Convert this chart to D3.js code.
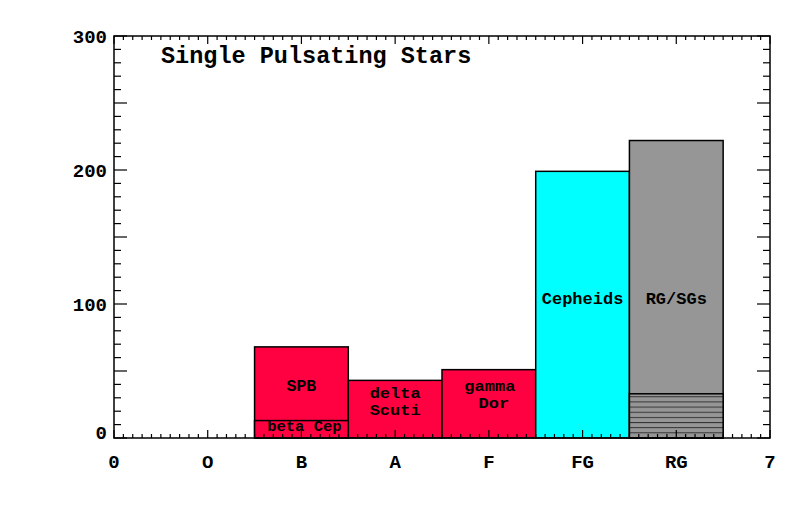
<!DOCTYPE html>
<html><head><meta charset="utf-8">
<script src="https://cdn.jsdelivr.net/npm/d3@7"></script>
<style>body{margin:0;background:#fff}svg{display:block}text{font-family:"Liberation Mono","Courier New",monospace;font-weight:bold;fill:#000}</style>
</head><body>
<script>
const xTickLabels = ["0","O","B","A","F","FG","RG","7"];
const classes = ["B","A","F","FG","RG"];
const classPos = [2,3,4,5,6];
const counts = [68,43,51,199,222];
const colors = ["#ff0040","#ff0040","#ff0040","#00ffff","#969696"];
const barLabels = [["SPB"],["delta","Scuti"],["gamma","Dor"],["Cepheids"],["RG/SGs"]];
const subCounts = [13,0,0,0,33];
const subLabels = ["beta Cep","","","",""];
const yTickLabels = [0,100,200,300];

const W=804,H=511, L=114, R=770, T=36, B=438;
const svg=d3.select("body").append("svg").attr("width",W).attr("height",H);
const x=d3.scaleLinear().domain([0,7]).range([L,R]);
const y=d3.scaleLinear().domain([0,300]).range([B,T]);

const defs=svg.append("defs");
const pat=defs.append("pattern").attr("id","hatch").attr("patternUnits","userSpaceOnUse")
  .attr("width",10).attr("height",5.15).attr("y",B-5.15*0.1);
pat.append("rect").attr("width",10).attr("height",5.15).attr("fill","#969696");
pat.append("line").attr("x1",0).attr("x2",10).attr("y1",0.5).attr("y2",0.5).attr("stroke","#333").attr("stroke-width",1);

const bars = classes.map((c,i)=>({c, p:classPos[i], v:counts[i], col:colors[i], lab:barLabels[i], sv:subCounts[i], sl:subLabels[i]}));

const g=svg.append("g");
g.selectAll("rect.bar").data(bars).join("rect").attr("class","bar")
  .attr("x",d=>x(d.p-0.5)).attr("width",d=>x(d.p+0.5)-x(d.p-0.5))
  .attr("y",d=>y(d.v)).attr("height",d=>y(0)-y(d.v))
  .attr("fill",d=>d.col).attr("stroke","#000").attr("stroke-width",1.5);

// sub-segments
bars.filter(d=>d.sv>0).forEach(d=>{
  g.append("rect").attr("x",x(d.p-0.5)).attr("width",x(d.p+0.5)-x(d.p-0.5))
   .attr("y",y(d.sv)).attr("height",y(0)-y(d.sv))
   .attr("fill", d.sl ? d.col : "url(#hatch)").attr("stroke","#000").attr("stroke-width",1.5);
  if(d.sl){
    g.append("text").attr("x",x(d.p)+3).attr("y",y(d.sv/2)+2).attr("text-anchor","middle")
     .attr("font-size",15.5).text(d.sl);
  }
});

// bar labels
const labY={"B":386,"A":393,"F":386,"FG":299,"RG":299};
const labDx={"B":0,"A":0,"F":[1,5],"FG":0,"RG":0};
bars.forEach(d=>{
  const multi=d.lab.length>1;
  d.lab.forEach((s,k)=>{
    const dx = Array.isArray(labDx[d.c])?labDx[d.c][k]:labDx[d.c];
    const t=g.append("text").attr("text-anchor","middle")
      .attr("x",x(d.p)+dx).attr("y",labY[d.c]+5+k*16.5)
      .attr("font-size",multi?14:(d.c==="FG"||d.c==="RG"?17:16.5)).text(s);
    if(multi){ t.attr("textLength",s.length*10.2).attr("lengthAdjust","spacingAndGlyphs"); }
  });
});

// frame
svg.append("rect").attr("x",L).attr("y",T).attr("width",R-L).attr("height",B-T)
  .attr("fill","none").attr("stroke","#000").attr("stroke-width",1.5);

// ticks (all sides, inward)
const xMinor=d3.range(0,70.01,1).map(v=>v/10);
const ax=svg.append("g").attr("stroke","#000").attr("stroke-width",1.2);
xMinor.forEach((v,i)=>{
  const len = i%10===0?8:4;
  ax.append("line").attr("x1",x(v)).attr("x2",x(v)).attr("y1",B).attr("y2",B-len);
  ax.append("line").attr("x1",x(v)).attr("x2",x(v)).attr("y1",T).attr("y2",T+len);
});
const yMinor=d3.range(0,301,10);
yMinor.forEach(v=>{
  const len = v%50===0?13:7;
  ax.append("line").attr("x1",L).attr("x2",L+len).attr("y1",y(v)).attr("y2",y(v));
  ax.append("line").attr("x1",R).attr("x2",R-len).attr("y1",y(v)).attr("y2",y(v));
});

// labels
svg.selectAll("text.xl").data(xTickLabels).join("text").attr("class","xl")
  .attr("x",(d,i)=>x(i)).attr("y",468).attr("text-anchor","middle").attr("font-size",19).text(d=>d);
svg.selectAll("text.yl").data(yTickLabels).join("text").attr("class","yl")
  .attr("x",107).attr("y",d=>d===0?439:y(d)+7).attr("text-anchor","end").attr("font-size",19).text(d=>d);

svg.append("text").attr("x",161).attr("y",63).attr("font-size",23.5).text("Single Pulsating Stars");
</script>
</body></html>
